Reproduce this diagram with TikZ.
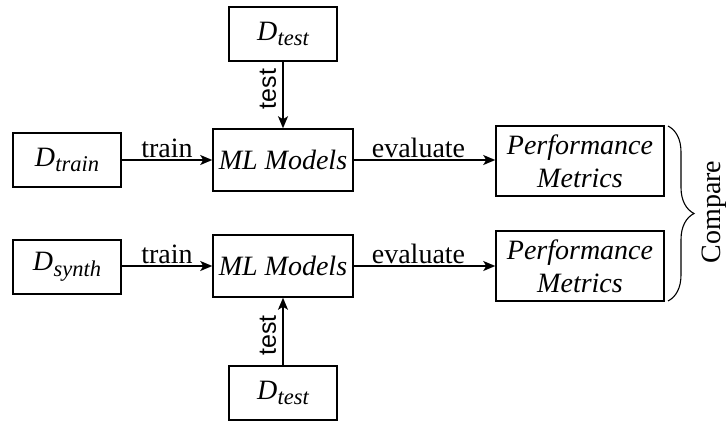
\documentclass[tikz,border=0pt]{standalone}
\usepackage{fontspec}
\setmainfont{Liberation Serif}
\newfontfamily\labelsans{Liberation Sans}
\usetikzlibrary{arrows.meta,decorations.pathreplacing,calc}

% dataset symbol: italic D with a lowered italic subscript
\newcommand{\dset}[1]{\textit{D}\kern0.5pt\raisebox{-0.2em}{\fontsize{22.5}{22.5}\selectfont\itshape #1}}

\begin{document}
\begin{tikzpicture}[x=1pt,y=-1pt,
  box/.style={draw,line width=1.5pt,inner sep=0pt,font=\fontsize{28}{33}\selectfont,align=center},
  databox/.style={box,minimum width=108pt,minimum height=54pt},
  modelbox/.style={box,minimum width=140pt,minimum height=62pt,font=\fontsize{28}{33}\selectfont\itshape},
  metricbox/.style={box,minimum width=168pt,minimum height=70pt,font=\fontsize{28}{33}\selectfont\itshape},
  flow/.style={line width=1.5pt,-{Stealth[length=12pt,width=10pt,inset=3pt]}},
  lbl/.style={font=\fontsize{28}{30}\selectfont,inner sep=1.5pt},
  vlbl/.style={font=\labelsans\fontsize{25}{27}\selectfont,inner sep=1pt,rotate=90},
]
\useasboundingbox (0,0) rectangle (727,423);

% upper row: real training data
\node[databox]   (testTop) at (283,34)  {\dset{test}};
\node[databox]   (train)   at (67,160)  {\dset{train}};
\node[modelbox]  (mlTop)   at (283,160) {ML Models};
\node[metricbox] (perfTop) at (580,161) {Performance\\Metrics};

% lower row: synthetic training data
\node[databox]   (synth)   at (67,267)  {\dset{synth}};
\node[modelbox]  (mlBot)   at (283,266) {ML Models};
\node[metricbox] (perfBot) at (580,266) {Performance\\Metrics};
\node[databox]   (testBot) at (283,393) {\dset{test}};

% connectors
\draw[flow] (train.east) -- node[lbl,above] {train} (mlTop.west);
\draw[flow] (mlTop.east) -- node[lbl,above,xshift=-6pt] {evaluate} (mlTop.east -| perfTop.west);
\draw[flow] (testTop.south) -- (mlTop.north);
\node[vlbl] (testLblTop) at ($(testTop.south)!0.5!(mlTop.north)+(-15,-6)$) {test};

\draw[flow] (synth.east |- mlBot.west) -- node[lbl,above] {train} (mlBot.west);
\draw[flow] (mlBot.east) -- node[lbl,above,xshift=-6pt] {evaluate} (perfBot.west);
\draw[flow] (testBot.north) -- (mlBot.south);
\node[vlbl] (testLblBot) at ($(testBot.north)!0.5!(mlBot.south)+(-15,4)$) {test};

% brace grouping both metric boxes
\coordinate (braceTop) at (668,126);
\coordinate (braceBot) at (668,301);
\draw[line width=1.1pt,decorate,decoration={brace,amplitude=26pt}]
  (braceTop) -- (braceBot);
\node[font=\fontsize{28}{30}\selectfont,inner sep=0pt,rotate=90] (compare) at (714,212) {Compare};
\end{tikzpicture}
\end{document}
